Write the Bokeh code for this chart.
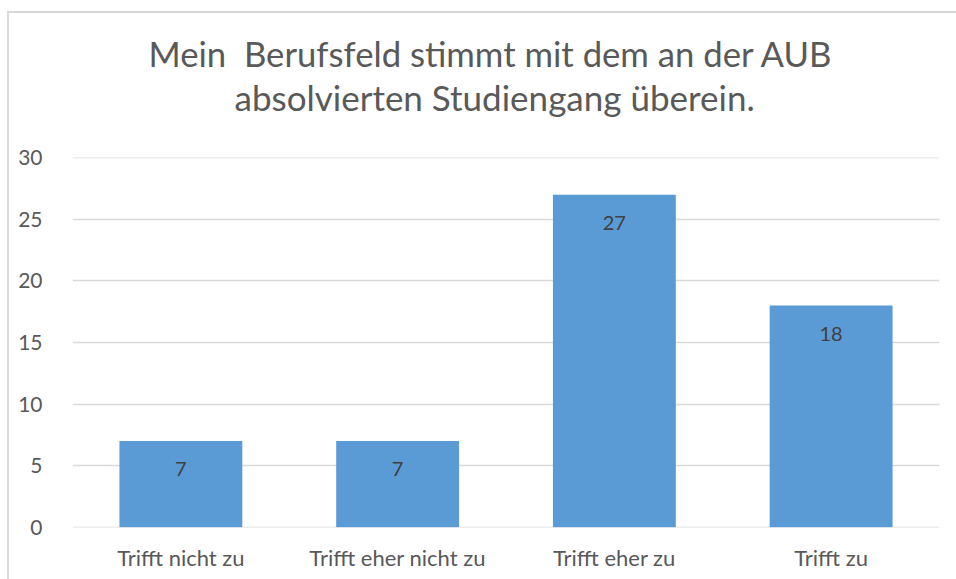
from bokeh.plotting import figure
from bokeh.models import ColumnDataSource, LabelSet, Title, FixedTicker, Range1d, InlineStyleSheet
from bokeh.core.properties import value
from bokeh.embed import file_html
from bokeh.resources import INLINE

categories = ["Trifft nicht zu", "Trifft eher nicht zu", "Trifft eher zu", "Trifft zu"]
values = [7, 7, 27, 18]
labels = [str(v) for v in values]
title_lines = ["Mein\u00a0 Berufsfeld stimmt mit dem an der AUB", "absolvierten Studiengang überein."]
y_ticks = [0, 5, 10, 15, 20, 25, 30]

FONT = "Lato"
src = ColumnDataSource(dict(cat=categories, val=values, lab=labels))

p = figure(x_range=categories, y_range=Range1d(-0.03, 30.03), width=956, height=579,
           output_backend="svg", toolbar_location=None,
           min_border_left=72, min_border_right=17, min_border_top=157, min_border_bottom=52)

border_css = InlineStyleSheet(css="""
:host::after {
  content: "";
  position: absolute;
  left: 7px; top: 11px; right: -20px; bottom: -20px;
  border-top: 2px solid #d9d9d9;
  border-left: 2px solid #d9d9d9;
  pointer-events: none;
  z-index: 10;
}
""")
p.stylesheets = [border_css]

p.vbar(x="cat", top="val", width=0.567, source=src, color="#5B9BD5", line_color=None)

p.add_layout(LabelSet(x="cat", y="val", text="lab", source=src, y_offset=-28,
                      text_align="center", text_baseline="middle",
                      text_font=value(FONT), text_font_size="20px", text_color="#404040"))

# spacer nearest the frame, then line 2, then line 1 (outermost)
p.add_layout(Title(text=" ", align="center", text_font=FONT, text_font_size="31px",
                   standoff=0, offset=0), "above")
p.add_layout(Title(text=title_lines[1], align="left", text_font=FONT, text_font_size="35px",
                   text_font_style="normal", text_color="#595959",
                   standoff=0, offset=162), "above")
p.add_layout(Title(text=title_lines[0], align="left", text_font=FONT, text_font_size="34.7px",
                   text_font_style="normal", text_color="#595959",
                   standoff=0, offset=76), "above")

p.outline_line_color = None
p.xgrid.grid_line_color = None
p.ygrid.grid_line_color = "#d9d9d9"
p.ygrid.grid_line_width = 1.5
p.yaxis.ticker = FixedTicker(ticks=y_ticks)

for ax in (p.xaxis, p.yaxis):
    ax.axis_line_color = None
    ax.major_tick_line_color = None
    ax.minor_tick_line_color = None
    ax.major_label_text_font = FONT
    ax.major_label_text_color = "#595959"
p.yaxis.major_label_text_font_size = "21px"
p.xaxis.major_label_text_font_size = "22px"
p.yaxis.major_label_standoff = 24
p.xaxis.major_label_standoff = 10
p.x_range.range_padding = 0
p.background_fill_color = "white"
p.border_fill_color = "white"

open("out.html", "w").write(file_html(p, INLINE))
